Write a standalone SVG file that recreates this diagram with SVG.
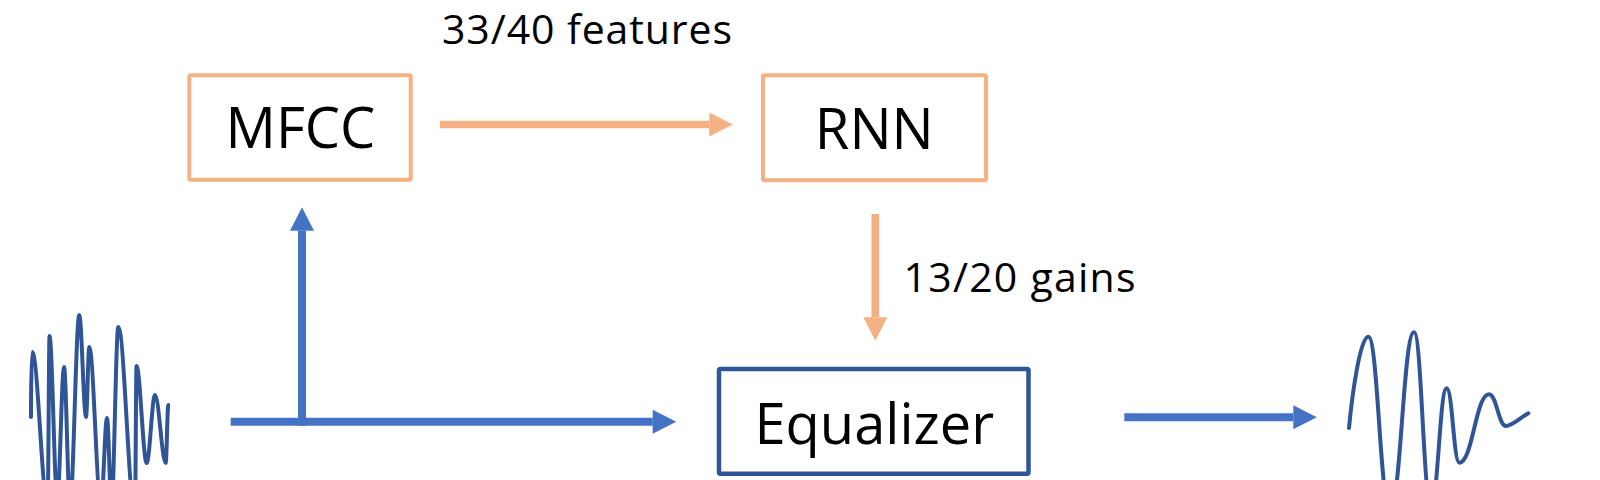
<svg xmlns="http://www.w3.org/2000/svg" width="1600" height="480" viewBox="0 0 1600 480">
  <defs>
    <style>
      .box-o { fill: #FFFFFF; stroke: #F4B183; stroke-width: 4; }
      .box-b { fill: #FFFFFF; stroke: #2F5597; stroke-width: 4.5; }
      .lbl { font-family: "Open Sans", "Noto Sans", sans-serif; font-size: 56px; fill: #000000; text-anchor: middle; }
      .note { font-family: "Open Sans", "Noto Sans", sans-serif; font-size: 41px; fill: #000000; text-anchor: middle; }
      .c-o { fill: none; stroke: #F4B183; stroke-width: 7.7; }
      .c-b { fill: none; stroke: #4472C4; stroke-width: 8; }
      .wave { fill: none; stroke: #2F5597; stroke-width: 4; stroke-linecap: round; stroke-linejoin: round; }
    </style>
    <marker id="ah-o" markerUnits="userSpaceOnUse" markerWidth="24" markerHeight="24" refX="0" refY="12" orient="auto" overflow="visible">
      <path d="M0,0 L23.5,12 L0,24 Z" fill="#F4B183"/>
    </marker>
    <marker id="ah-b" markerUnits="userSpaceOnUse" markerWidth="24" markerHeight="24" refX="0" refY="12" orient="auto" overflow="visible">
      <path d="M0,0 L23.5,12 L0,24 Z" fill="#4472C4"/>
    </marker>
  </defs>
  <rect width="1600" height="480" fill="#FFFFFF"/>

  <g id="input-wave">
    <path class="wave" d="M31,417 C31,385 31.6,352 32.3,352 C37.7,352 42.3,505 47.7,505 C48.3,505 48.9,336 49.5,336 C52.2,336 54.6,500 57.3,500 C59.6,500 61.7,367 64,367 C66.1,367 67.9,505 70,505 C73.3,505 76,315 79.3,315 C81.6,315 83.7,417 86,417 C87.2,417 88.1,347 89.3,347 C93.4,347 96.9,505 101,505 C103.1,505 104.9,418 107,418 C108.6,418 109.9,505 111.5,505 C113.9,505 115.9,327 118.3,327 C124.2,327 129.2,515 135,515 C135.5,515 136,366 136.5,366 C140.1,366 143.1,463 146.7,463 C149.6,463 152.1,395 155,395 C158.8,395 162,463 165.7,463 C166.6,463 167.4,405 168.3,405"/>
  </g>

  <g id="output-wave">
    <path class="wave" d="M1349,428 C1352,396 1360,336.7 1368.3,336.7 C1378.1,336.7 1380.2,510 1390,510 C1400.8,510 1403.2,332.3 1414,332.3 C1421.7,332.3 1423.4,505 1431,505 C1438.1,505 1439.6,388.3 1446.7,388.3 C1452.4,388.3 1453.6,462.7 1459.3,462.7 C1472.7,462.7 1475.6,394.3 1489,394.3 C1496.7,394.3 1498.4,426 1506,426 C1512,426 1520,418 1528.3,413.3"/>
  </g>

  <g id="mfcc">
    <rect class="box-o" x="189.3" y="75.3" width="221.4" height="104.4" rx="1.5"/>
    <text class="lbl" x="300.5" y="148.3">MFCC</text>
  </g>

  <g id="rnn">
    <rect class="box-o" x="763" y="75.3" width="223" height="105" rx="1.5"/>
    <text class="lbl" x="874.3" y="149.3">RNN</text>
  </g>

  <g id="equalizer">
    <rect class="box-b" x="719" y="369" width="309.5" height="104.7" rx="1.5"/>
    <text class="lbl" x="874.3" y="444">Equalizer</text>
  </g>

  <g id="connectors">
    <path class="c-o" d="M440,124.5 H709.3" marker-end="url(#ah-o)"/>
    <path class="c-o" d="M875.3,214 V317.2" marker-end="url(#ah-o)"/>
    <path class="c-b" d="M230.7,421.8 H652.7" marker-end="url(#ah-b)"/>
    <path class="c-b" d="M302,425.8 V230.8" marker-end="url(#ah-b)"/>
    <path class="c-b" d="M1124.3,417.2 H1293.3" marker-end="url(#ah-b)"/>
  </g>

  <g id="labels">
    <text class="note" x="587" y="44" textLength="290">33/40 features</text>
    <text class="note" x="1019.5" y="291.7" textLength="232">13/20 gains</text>
  </g>
</svg>
